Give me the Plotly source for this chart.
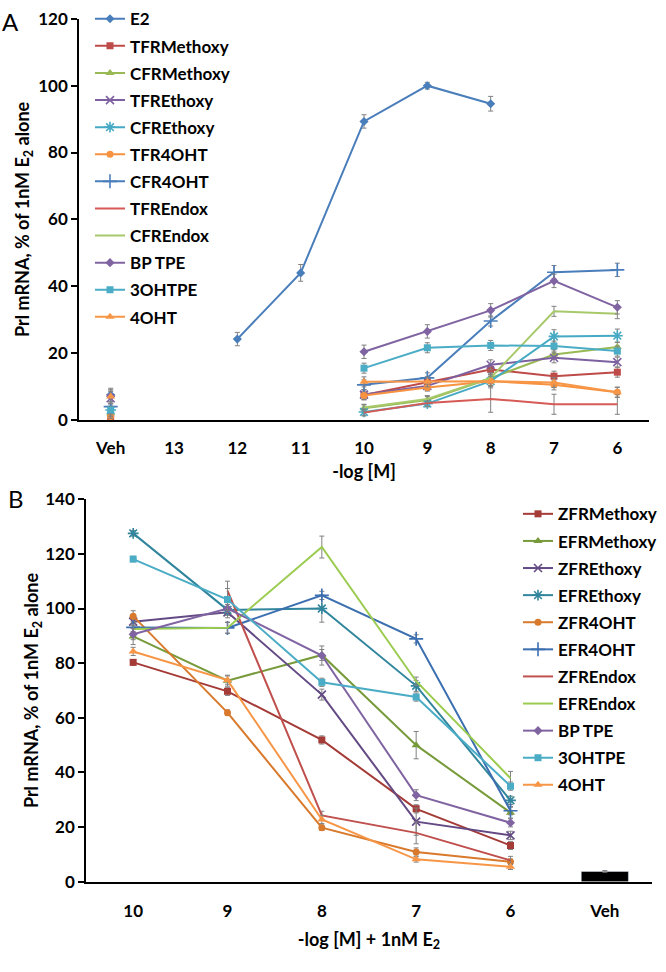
import plotly.graph_objects as go

W, H = 666, 972

# ---------------- Panel A data ----------------
cats_a = ["Veh", "13", "12", "11", "10", "9", "8", "7", "6"]
N = None
names_a = ["E2", "TFRMethoxy", "CFRMethoxy", "TFREthoxy", "CFREthoxy", "TFR4OHT",
           "CFR4OHT", "TFREndox", "CFREndox", "BP TPE", "3OHTPE", "4OHT"]
vals_a = {
    "E2":         [7.5, N, 24.2, 44.0, 89.3, 100.0, 94.6, N, N],
    "TFRMethoxy": [1.0, N, N, N, 7.5, 11.4, 15.1, 13.1, 14.3],
    "CFRMethoxy": [2.0, N, N, N, 3.5, 6.0, 12.5, 19.6, 21.8],
    "TFREthoxy":  [6.5, N, N, N, 7.6, 10.2, 16.5, 18.6, 17.3],
    "CFREthoxy":  [3.0, N, N, N, 2.4, 4.9, 11.6, 25.0, 25.2],
    "TFR4OHT":    [1.0, N, N, N, 7.3, 9.7, 11.6, 10.5, 8.3],
    "CFR4OHT":    [4.0, N, N, N, 10.5, 12.6, 29.6, 44.2, 44.9],
    "TFREndox":   [1.0, N, N, N, 2.2, 5.1, 6.3, 4.7, 4.7],
    "CFREndox":   [2.0, N, N, N, 3.7, 6.3, 12.6, 32.5, 31.8],
    "BP TPE":     [7.0, N, N, N, 20.4, 26.5, 32.8, 41.6, 33.7],
    "3OHTPE":     [3.0, N, N, N, 15.5, 21.6, 22.3, 22.1, 20.6],
    "4OHT":       [7.0, N, N, N, 11.4, 11.4, 11.6, 11.2, 8.3],
}
errs_a = {
    "E2":         [2.0, N, 2.0, 2.5, 2.0, 1.0, 2.2, N, N],
    "TFRMethoxy": [0.5, N, N, N, 1.5, 1.5, 1.5, 1.5, 1.5],
    "CFRMethoxy": [1.0, N, N, N, 1.0, 1.0, 1.5, 1.5, 1.5],
    "TFREthoxy":  [2.0, N, N, N, 1.5, 1.5, 1.5, 1.5, 1.5],
    "CFREthoxy":  [1.0, N, N, N, 1.0, 1.0, 2.0, 2.0, 2.0],
    "TFR4OHT":    [0.5, N, N, N, 1.0, 1.0, 1.5, 1.5, 1.5],
    "CFR4OHT":    [1.0, N, N, N, 1.5, 1.5, 1.5, 2.0, 2.0],
    "TFREndox":   [0.5, N, N, N, 1.0, 1.0, 4.0, 3.0, 3.0],
    "CFREndox":   [1.0, N, N, N, 1.0, 1.0, 1.5, 1.5, 1.5],
    "BP TPE":     [2.0, N, N, N, 2.0, 2.0, 2.0, 2.0, 2.0],
    "3OHTPE":     [1.0, N, N, N, 1.5, 1.5, 1.5, 1.5, 1.5],
    "4OHT":       [2.0, N, N, N, 1.5, 1.5, 1.5, 1.5, 1.5],
}

# ---------------- Panel B data ----------------
cats_b = ["10", "9", "8", "7", "6", "Veh"]
names_b = ["ZFRMethoxy", "EFRMethoxy", "ZFREthoxy", "EFREthoxy", "ZFR4OHT", "EFR4OHT",
           "ZFREndox", "EFREndox", "BP TPE", "3OHTPE", "4OHT"]
vals_b = {
    "ZFRMethoxy": [80.3, 69.7, 51.9, 26.7, 13.3, N],
    "EFRMethoxy": [89.8, 73.6, 83.0, 50.0, 25.3, N],
    "ZFREthoxy":  [95.2, 98.6, 68.5, 22.0, 17.0, N],
    "EFREthoxy":  [127.5, 99.5, 100.0, 71.7, 29.8, N],
    "ZFR4OHT":    [97.2, 61.9, 19.8, 10.9, 7.3, N],
    "EFR4OHT":    [93.1, 92.9, 104.8, 88.9, 26.0, N],
    "ZFREndox":   [N, 106.5, 24.3, 17.9, 7.8, N],
    "EFREndox":   [92.5, 93.0, 122.5, 73.4, 37.9, N],
    "BP TPE":     [90.6, 100.0, 82.8, 31.7, 21.6, N],
    "3OHTPE":     [118.1, 103.3, 73.0, 67.6, 35.0, N],
    "4OHT":       [84.3, 73.8, 22.8, 8.2, 5.5, N],
}
errs_b = {
    "ZFRMethoxy": [1.0, 1.5, 1.5, 1.5, 1.5, N],
    "EFRMethoxy": [3.0, 2.0, 2.0, 5.0, 2.0, N],
    "ZFREthoxy":  [1.5, 2.0, 2.0, 5.0, 1.5, N],
    "EFREthoxy":  [1.0, 2.0, 5.0, 2.0, 1.5, N],
    "ZFR4OHT":    [2.0, 1.0, 1.0, 1.5, 1.0, N],
    "EFR4OHT":    [1.5, 2.0, 1.5, 1.5, 1.5, N],
    "ZFREndox":   [N, 3.5, 1.5, 4.0, 1.5, N],
    "EFREndox":   [1.5, 2.0, 4.0, 1.5, 2.5, N],
    "BP TPE":     [2.0, 1.5, 3.5, 2.0, 1.5, N],
    "3OHTPE":     [1.0, 4.0, 1.5, 1.5, 1.5, N],
    "4OHT":       [1.5, 1.5, 1.5, 1.0, 1.0, N],
}
veh_b = [3.8]
veh_b_err = [0.3]

# ---------------- styles ----------------
style = {
    "E2":         ("#4A7EBB", "diamond", 7),
    "TFRMethoxy": ("#BE4B48", "square", 7),
    "CFRMethoxy": ("#98B954", "triangle-up", 8),
    "TFREthoxy":  ("#7D60A0", "x-thin-open", 8),
    "CFREthoxy":  ("#46AAC5", "asterisk-open", 9),
    "TFR4OHT":    ("#F69240", "circle", 7),
    "CFR4OHT":    ("#4A7EBB", "cross-thin-open", 10),
    "TFREndox":   ("#D65A55", None, 0),
    "CFREndox":   ("#A7C96A", None, 0),
    "BP TPE":     ("#8064A2", "diamond", 7),
    "3OHTPE":     ("#4BACC6", "square", 7),
    "4OHT":       ("#F79646", "triangle-up", 8),
    "ZFRMethoxy": ("#A43B37", "square", 7),
    "EFRMethoxy": ("#779A3A", "triangle-up", 8),
    "ZFREthoxy":  ("#634A84", "x-thin-open", 8),
    "EFREthoxy":  ("#31859C", "asterisk-open", 9),
    "ZFR4OHT":    ("#D8792C", "circle", 7),
    "EFR4OHT":    ("#3C6FB0", "cross-thin-open", 10),
    "ZFREndox":   ("#C0504D", None, 0),
    "EFREndox":   ("#9BCB4F", None, 0),
}

FONT = "Lato, 'Open Sans', sans-serif"
fig = go.Figure()


def add_series(name, x, y, e, xa, ya, leg, grp):
    color, sym, size = style[name]
    kw = dict(
        x=x, y=y, name=name, xaxis=xa, yaxis=ya, legend=leg, legendgroup=grp,
        line=dict(color=color, width=2),
        error_y=dict(type="data", array=e, visible=True, color="#808080",
                     thickness=1, width=2.5),
        connectgaps=False,
    )
    if sym is None:
        kw["mode"] = "lines"
    else:
        kw["mode"] = "lines+markers"
        if sym.endswith("-open"):
            kw["marker"] = dict(symbol=sym, size=size, color=color,
                                line=dict(color=color, width=1.6))
        else:
            kw["marker"] = dict(symbol=sym, size=size, color=color)
    fig.add_trace(go.Scatter(**kw))


for nm in names_a:
    add_series(nm, cats_a, vals_a[nm], errs_a[nm], "x", "y", "legend", "A_" + nm)
for nm in names_b:
    add_series(nm, cats_b[:5], vals_b[nm][:5], errs_b[nm][:5], "x2", "y2", "legend2", "B_" + nm)

fig.add_trace(go.Bar(x=["Veh"], y=veh_b, xaxis="x2", yaxis="y2", showlegend=False,
                     marker=dict(color="black"), width=0.5,
                     error_y=dict(type="data", array=veh_b_err, color="#808080",
                                  thickness=1, width=2.5)))

tickfont = dict(family=FONT, size=17, color="black", weight="bold")
titlefont = dict(family=FONT, size=18, color="black", weight="bold")
legfont = dict(family=FONT, size=17, color="black", weight="bold")

def fx(p):
    return p / W

def fy(p):
    return 1 - p / H

# layout anchors (pixels from top-left of the page)
TA, BA = 8, 418      # panel A plot top / bottom
TB, BB = 499, 890    # panel B plot top / bottom

fig.update_layout(
    width=W, height=H,
    margin=dict(l=0, r=0, t=0, b=0),
    paper_bgcolor="white", plot_bgcolor="white",
    font=dict(family=FONT, color="black"),
    xaxis=dict(domain=[fx(79), fx(649)], anchor="y", type="category",
               categoryorder="array", categoryarray=cats_a, range=[-0.5, 8.5],
               showline=True, linecolor="black", linewidth=1.5, ticks="",
               ticklabelstandoff=12,
               showgrid=False, zeroline=False, tickfont=tickfont,
               title=dict(text="-log [M]", font=titlefont, standoff=8)),
    yaxis=dict(domain=[fy(BA), fy(TA)], anchor="x", range=[0, 120], dtick=20,
               showline=True, linecolor="black", linewidth=1.5, ticks="outside",
               ticklen=6, tickwidth=1.5, tickcolor="black",
               showgrid=False, zeroline=False, tickfont=tickfont,
               title=dict(text="Prl mRNA, % of 1nM E<sub>2</sub> alone", font=titlefont, standoff=4)),
    xaxis2=dict(domain=[fx(86), fx(652)], anchor="y2", type="category",
                categoryorder="array", categoryarray=cats_b, range=[-0.5, 5.5],
                showline=True, linecolor="black", linewidth=1.5, ticks="",
                ticklabelstandoff=13,
                showgrid=False, zeroline=False, tickfont=tickfont,
                title=dict(text="-log [M] + 1nM E<sub>2</sub>", font=titlefont, standoff=13)),
    yaxis2=dict(domain=[fy(BB), fy(TB)], anchor="x2", range=[0, 140], dtick=20,
                showline=True, linecolor="black", linewidth=1.5, ticks="outside",
                ticklen=6, tickwidth=1.5, tickcolor="black",
                showgrid=False, zeroline=False, tickfont=tickfont,
                title=dict(text="Prl mRNA, % of 1nM E<sub>2</sub> alone", font=titlefont, standoff=1)),
    legend=dict(x=fx(90), y=fy(TA - 18), xanchor="left", yanchor="top",
                bgcolor="rgba(0,0,0,0)", font=legfont,
                tracegroupgap=2, itemwidth=30),
    legend2=dict(x=fx(518), y=fy(TB - 3), xanchor="left", yanchor="top",
                 bgcolor="rgba(0,0,0,0)", font=legfont,
                 tracegroupgap=2, itemwidth=30),
    annotations=[
        dict(text="A", x=fx(10), y=fy(TA + 3), xref="paper", yref="paper",
             xanchor="center", yanchor="middle",
             showarrow=False, font=dict(family=FONT, size=24, color="black")),
        dict(text="B", x=fx(16), y=fy(TB - 1), xref="paper", yref="paper",
             xanchor="center", yanchor="middle",
             showarrow=False, font=dict(family=FONT, size=24, color="black")),
    ],
)

fig.write_html("out.html", config={"displayModeBar": False},
               post_script="document.body.style.margin='0px';document.body.style.overflow='hidden';")
